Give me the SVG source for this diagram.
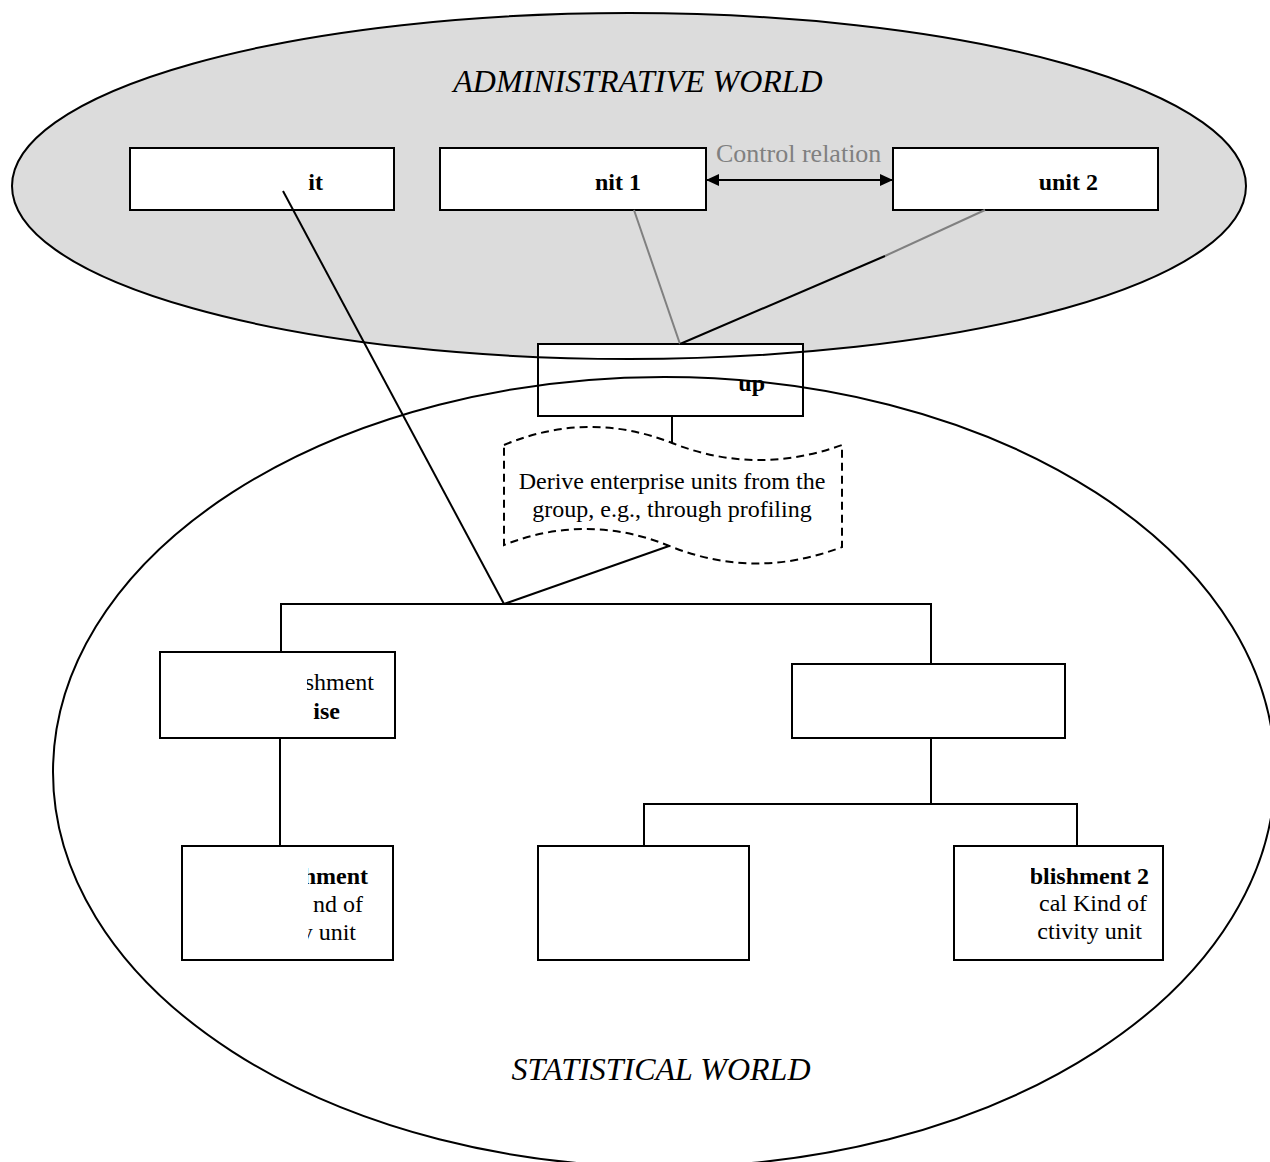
<svg xmlns="http://www.w3.org/2000/svg" width="1270" height="1162" viewBox="0 0 1270 1162">
  <style>
    .box { fill: #ffffff; stroke: #000000; stroke-width: 2; }
    .world { fill: none; stroke: #000000; stroke-width: 2; }
    .wire { fill: none; stroke: #000000; stroke-width: 2; }
    .wire-grey { fill: none; stroke: #808080; stroke-width: 2; }
    .tape { fill: none; stroke: #000000; stroke-width: 2; stroke-dasharray: 8 5; }
    .lbl { font-family: "Liberation Serif", "Times New Roman", serif; font-size: 24px; fill: #000000; }
    .b { font-weight: bold; }
    .title { font-family: "Liberation Serif", "Times New Roman", serif; font-size: 32px; font-style: italic; fill: #000000; }
    .rel { font-family: "Liberation Serif", "Times New Roman", serif; font-size: 26px; fill: #808080; }
  </style>
  <defs>
    <marker id="head" markerWidth="14" markerHeight="14" refX="13" refY="7" orient="auto-start-reverse" markerUnits="userSpaceOnUse">
      <path d="M0,1 L13,7 L0,13 Z" fill="#000000"/>
    </marker>
    <!-- clipping windows for labels that are cut at the left -->
    <clipPath id="clipE"><rect x="307" y="660" width="86" height="70"/></clipPath>
    <clipPath id="clipG"><rect x="308" y="850" width="83" height="100"/></clipPath>
    <clipPath id="clipI"><rect x="1031" y="850" width="130" height="100"/></clipPath>
  </defs>

  <!-- world background -->
  <ellipse id="admin-fill" cx="629" cy="186" rx="617" ry="173" fill="#dcdcdc"/>

  <!-- administrative units -->
  <g id="legal-unit">
    <rect class="box" x="130" y="148" width="264" height="62"/>
    <text class="lbl b" x="323" y="190" text-anchor="end">it</text>
  </g>
  <g id="admin-unit-1">
    <rect class="box" x="440" y="148" width="266" height="62"/>
    <text class="lbl b" x="641" y="190" text-anchor="end">nit 1</text>
  </g>
  <g id="admin-unit-2">
    <rect class="box" x="893" y="148" width="265" height="62"/>
    <text class="lbl b" x="1098" y="190" text-anchor="end">unit 2</text>
  </g>
  <g id="control-relation">
    <text class="rel" x="716" y="162">Control relation</text>
  </g>

  <!-- enterprise group -->
  <g id="group">
    <rect class="box" x="538" y="344" width="265" height="72"/>
    <text class="lbl b" x="765" y="391" text-anchor="end">up</text>
  </g>

  <!-- profiling step -->
  <g id="derive">
    <path class="tape" d="M504,445 Q588,410 672,443 Q756,476 842,445 L842,547 Q756,580 672,547 Q588,512 504,545 Z"/>
    <text class="lbl" x="672" y="489" text-anchor="middle">Derive enterprise units from the</text>
    <text class="lbl" x="672" y="517" text-anchor="middle">group, e.g., through profiling</text>
  </g>

  <!-- enterprises -->
  <g id="enterprise-1">
    <rect class="box" x="160" y="652" width="235" height="86"/>
    <g clip-path="url(#clipE)">
      <text class="lbl" x="374" y="690" text-anchor="end">shment</text>
      <text class="lbl b" x="340" y="719" text-anchor="end">ise</text>
    </g>
  </g>
  <g id="enterprise-2">
    <rect class="box" x="792" y="664" width="273" height="74"/>
  </g>

  <!-- establishments -->
  <g id="establishment-1">
    <rect class="box" x="182" y="846" width="211" height="114"/>
    <g clip-path="url(#clipG)">
      <text class="lbl b" x="368" y="884" text-anchor="end">hment</text>
      <text class="lbl" x="363" y="912" text-anchor="end">nd of</text>
      <text class="lbl" x="356" y="940" text-anchor="end">y unit</text>
    </g>
  </g>
  <g id="establishment-x">
    <rect class="box" x="538" y="846" width="211" height="114"/>
  </g>
  <g id="establishment-2">
    <rect class="box" x="954" y="846" width="209" height="114"/>
    <g clip-path="url(#clipI)">
      <text class="lbl b" x="1149" y="884" text-anchor="end">ablishment 2</text>
      <text class="lbl" x="1147" y="911" text-anchor="end">cal Kind of</text>
      <text class="lbl" x="1142" y="939" text-anchor="end">ctivity unit</text>
    </g>
  </g>

  <!-- connectors -->
  <g id="connectors">
    <line class="wire" x1="706" y1="180" x2="893" y2="180" marker-start="url(#head)" marker-end="url(#head)"/>
    <line class="wire-grey" x1="634" y1="210" x2="680" y2="344"/>
    <line class="wire-grey" x1="985" y1="210" x2="885" y2="256"/>
    <line class="wire" x1="885" y1="256" x2="680" y2="344"/>
    <line class="wire" x1="283" y1="191" x2="504" y2="604"/>
    <line class="wire" x1="672" y1="416" x2="672" y2="443"/>
    <line class="wire" x1="669" y1="546" x2="504" y2="604"/>
    <polyline class="wire" points="281,652 281,604 931,604 931,664"/>
    <line class="wire" x1="280" y1="738" x2="280" y2="846"/>
    <line class="wire" x1="931" y1="738" x2="931" y2="804"/>
    <polyline class="wire" points="644,846 644,804 1077,804 1077,846"/>
  </g>

  <!-- world outlines and titles -->
  <g id="administrative-world">
    <ellipse class="world" cx="629" cy="186" rx="617" ry="173"/>
    <text class="title" x="638" y="92" text-anchor="middle">ADMINISTRATIVE WORLD</text>
  </g>
  <g id="statistical-world">
    <ellipse class="world" cx="664" cy="772" rx="611" ry="395"/>
    <text class="title" x="661" y="1080" text-anchor="middle">STATISTICAL WORLD</text>
  </g>
</svg>
